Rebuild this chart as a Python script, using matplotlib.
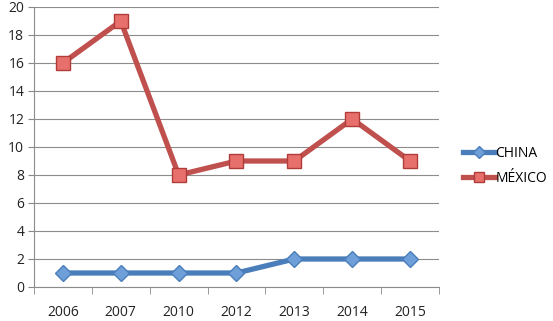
import matplotlib.pyplot as plt
import numpy as np

years = ['2006', '2007', '2010', '2012', '2013', '2014', '2015']
china = [1, 1, 1, 1, 2, 2, 2]
mexico = [16, 19, 8, 9, 9, 12, 9]

plt.rcParams['font.family'] = ['Open Sans', 'DejaVu Sans']

fig = plt.figure(figsize=(5.53, 3.21), dpi=100)
ax = fig.add_axes([34 / 553, 1 - 287 / 321, 405 / 553, 280 / 321])

x = np.arange(len(years))
ax.plot(x, china, color='#4a7ebb', lw=3.8, marker='D', markersize=8,
        markerfacecolor='#6f9fd8', markeredgecolor='#4a7ebb', markeredgewidth=1,
        label='CHINA', zorder=3)
ax.plot(x, mexico, color='#c0504d', lw=3.8, marker='s', markersize=10,
        markerfacecolor='#e8706c', markeredgecolor='#b03c39', markeredgewidth=1,
        label='MÉXICO', zorder=3)

ax.set_xlim(-0.5, len(years) - 0.5)
ax.set_ylim(0, 20)
ax.set_yticks(range(0, 21, 2))
ax.set_xticks(x)
ax.set_xticklabels(years)
ax.set_xticks(np.arange(-0.5, len(years)), minor=True)
ax.tick_params(axis='x', which='major', length=0, pad=13, labelsize=10, colors='#222222')
ax.tick_params(axis='x', which='minor', length=5, color='#888888', direction='out')
ax.tick_params(axis='y', length=4, color='#888888', labelsize=10, colors='#222222', pad=3)

ax.grid(axis='y', color='#8c8c8c', linewidth=0.8)
ax.set_axisbelow(True)
for s in ['top', 'right']:
    ax.spines[s].set_visible(False)
ax.spines['left'].set_color('#8c8c8c')
ax.spines['bottom'].set_color('#8c8c8c')

fig.legend(loc='upper left', bbox_to_anchor=(457 / 553, 1 - 140 / 321), frameon=False,
           fontsize=10, handlelength=2.3, handletextpad=0.05, labelspacing=0.75,
           borderaxespad=0, markerscale=0.75)

fig.savefig('out.png', dpi=100)
